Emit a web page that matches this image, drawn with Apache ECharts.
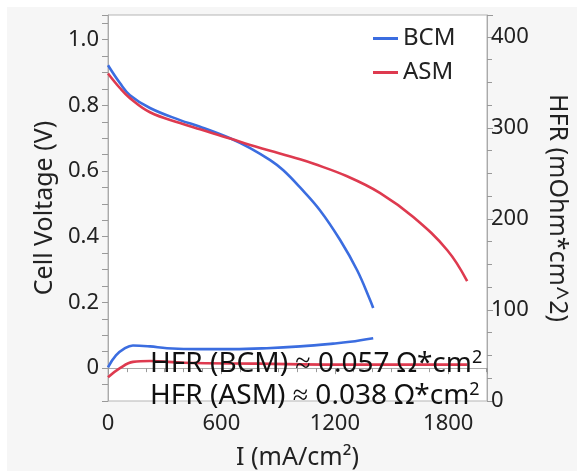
<!DOCTYPE html>
<html>
<head>
<meta charset="utf-8">
<script src="https://cdn.jsdelivr.net/npm/echarts@6/dist/echarts.min.js"></script>
<style>
  html, body { margin: 0; padding: 0; background: #fff; }
  #chart { width: 577px; height: 471px; }
</style>
</head>
<body>
<div id="chart"></div>
<script>
// polarization curves (I in mA/cm2, V in volts)
const iBCM = [0, 64, 116, 222, 381, 487, 646, 752, 858, 926, 1016, 1122, 1228, 1318, 1387, 1403];
const vBCM = [0.922, 0.867, 0.831, 0.792, 0.755, 0.735, 0.700, 0.670, 0.633, 0.603, 0.550, 0.480, 0.390, 0.298, 0.207, 0.183];
const iASM = [0, 64, 116, 222, 381, 487, 646, 752, 858, 1016, 1085, 1265, 1440, 1615, 1795, 1900];
const vASM = [0.897, 0.852, 0.822, 0.779, 0.746, 0.727, 0.699, 0.679, 0.662, 0.636, 0.623, 0.584, 0.533, 0.460, 0.359, 0.265];

// HFR curves (mOhm*cm^2)
const iHfrBCM = [0, 42, 90, 132, 222, 312, 487, 660, 840, 1016, 1191, 1281, 1403];
const hfrBCM = [37, 50, 58, 61, 60, 58, 57, 57, 58, 60, 63, 65, 69];
const iHfrASM = [0, 63, 132, 222, 400, 800, 1200, 1600, 1900];
const hfrASM = [26, 36, 43, 44, 42, 41, 40, 40, 40];

const legendNames = ["BCM", "ASM"];
const hfrNotes = ["HFR (BCM) ≈ 0.057 Ω*cm", "HFR (ASM) ≈ 0.038 Ω*cm"];

const BLUE = "#3b6de0";
const RED = "#de3a4f";
const FONT = "Noto Sans";

const zip = (xs, ys) => xs.map((x, k) => [x, ys[k]]);

const myChart = echarts.init(document.getElementById("chart"));

const tickStyle = { color: "#999", width: 1 };
const labelStyle = { color: "#222", fontSize: 22, fontFamily: FONT };
const nameStyle = { color: "#222", fontSize: 25, fontFamily: FONT };

// one annotation line with a superscript 2 on the end
const note = (txt, y) => ({
  type: "text", z: 100,
  style: {
    x: 150, y: y, verticalAlign: "middle",
    text: "{a|" + txt + "}{s|2}",
    rich: {
      a: { fontSize: 28, fontFamily: FONT, fill: "#111" },
      s: { fontSize: 18, fontFamily: FONT, fill: "#111", verticalAlign: "top", padding: [0, 0, 12, 0] }
    }
  }
});

let option = {
  backgroundColor: "#fff",
  animation: false,
  textStyle: { fontFamily: FONT },
  graphic: [
    {
      type: "rect", z: -10, silent: true,
      shape: { x: 7, y: 7, width: 577, height: 471 },
      style: { fill: "#f6f6f6" }
    },
    note(hfrNotes[0], 364),
    note(hfrNotes[1], 396)
  ],
  legend: {
    data: legendNames,
    orient: "vertical",
    left: 373,
    top: 26,
    padding: 0,
    icon: "rect",
    itemWidth: 25,
    itemHeight: 3,
    itemGap: 9,
    textStyle: { color: "#222", fontSize: 24, fontFamily: FONT, lineHeight: 25, padding: [0, 0, 0, 0] }
  },
  grid: {
    left: 108, right: 90, top: 15, bottom: 70,
    outerBoundsMode: "none",
    containLabel: false,
    show: true, backgroundColor: "#fff", borderColor: "#b5b5b5", borderWidth: 1
  },
  xAxis: {
    type: "value",
    min: 0, max: 2005, interval: 600,
    name: "I (mA/cm²)",
    nameLocation: "middle",
    nameGap: 44,
    nameTextStyle: nameStyle,
    axisLine: { lineStyle: { color: "#aaa" } },
    axisTick: { length: 6, lineStyle: tickStyle },
    minorTick: { show: true, splitNumber: 6, length: 4, lineStyle: tickStyle },
    splitLine: { show: false },
    axisLabel: Object.assign({
      margin: 12,
      formatter: v => (Math.round(v) % 600 === 0 ? String(Math.round(v)) : "")
    }, labelStyle)
  },
  yAxis: [
    {
      type: "value",
      min: -0.1, max: 1.075, interval: 0.05,
      name: "Cell Voltage (V)",
      nameLocation: "middle",
      nameGap: 50,
      nameTextStyle: nameStyle,
      axisLine: { show: true, lineStyle: { color: "#aaa" } },
      axisTick: { show: true, length: 6, lineStyle: tickStyle },
      splitLine: { show: false },
      axisLabel: Object.assign({
        margin: 9,
        formatter: v => {
          const h = Math.round(v * 100);
          if (h % 20 !== 0) return "";
          return h === 0 ? "0" : (h / 100).toFixed(1);
        }
      }, labelStyle)
    },
    {
      type: "value",
      position: "right",
      min: 0, max: 424, interval: 100,
      name: "HFR (mOhm*cm^2)",
      nameLocation: "middle",
      nameRotate: -90,
      nameGap: 58,
      nameTextStyle: nameStyle,
      axisLine: { show: true, lineStyle: { color: "#aaa" } },
      axisTick: { show: true, length: 6, lineStyle: tickStyle },
      minorTick: { show: true, splitNumber: 4, length: 5, lineStyle: tickStyle },
      splitLine: { show: false },
      axisLabel: Object.assign({
        margin: 4,
        formatter: v => (Math.round(v) % 100 === 0 ? String(Math.round(v)) : "")
      }, labelStyle)
    }
  ],
  series: [
    {
      name: "BCM", type: "line", yAxisIndex: 0, smooth: 0.4, symbol: "none",
      color: BLUE, lineStyle: { width: 2.6 }, data: zip(iBCM, vBCM)
    },
    {
      name: "ASM", type: "line", yAxisIndex: 0, smooth: 0.4, symbol: "none",
      color: RED, lineStyle: { width: 2.6 }, data: zip(iASM, vASM)
    },
    {
      name: "BCM HFR", type: "line", yAxisIndex: 1, smooth: 0.4, symbol: "none",
      color: BLUE, lineStyle: { width: 2.6 }, data: zip(iHfrBCM, hfrBCM)
    },
    {
      name: "ASM HFR", type: "line", yAxisIndex: 1, smooth: 0.4, symbol: "none",
      color: RED, lineStyle: { width: 2.6 }, data: zip(iHfrASM, hfrASM)
    }
  ]
};

myChart.setOption(option);
</script>
</body>
</html>
